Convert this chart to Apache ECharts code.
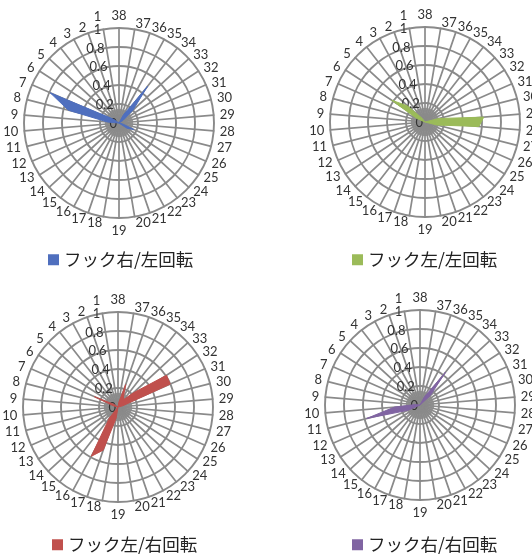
<!DOCTYPE html>
<html>
<head>
<meta charset="utf-8">
<script src="https://cdn.jsdelivr.net/npm/echarts@6/dist/echarts.min.js"></script>
<style>
  html, body { margin: 0; padding: 0; background: #fff; }
  #chart { width: 532px; height: 555px; }
</style>
</head>
<body>
<div id="chart"></div>
<script>
// spokes 1..38
const spokeLabels = Array.from({ length: 38 }, (_, i) => String(i + 1));

const seriesNames = ['フック右/左回転', 'フック左/左回転', 'フック左/右回転', 'フック右/右回転'];
const seriesColors = ['#4f6fbe', '#9bbb59', '#c0504d', '#8064a2'];

// values per spoke (1..38)
const hookRightLeft = [
  0, 0, 0, 0, 0, 0.08, 0.79, 0.55, 0.12, 0,
  0, 0, 0, 0, 0, 0, 0, 0, 0, 0,
  0, 0, 0, 0, 0.1, 0.17, 0.04, 0, 0, 0,
  0, 0.05, 0.2, 0.49, 0.1, 0, 0, 0
];
const hookLeftLeft = [
  0, 0, 0, 0.05, 0.25, 0.42, 0.1, 0, 0, 0,
  0, 0, 0, 0, 0, 0, 0, 0, 0, 0,
  0, 0, 0, 0, 0, 0, 0.13, 0.57, 0.62, 0.15,
  0, 0, 0, 0, 0, 0, 0, 0
];
const hookLeftRight = [
  0, 0, 0, 0, 0, 0.05, 0.27, 0.05, 0, 0,
  0, 0, 0, 0, 0.15, 0.59, 0.48, 0.12, 0, 0,
  0, 0, 0, 0, 0, 0, 0, 0, 0, 0.05,
  0.6, 0.61, 0.22, 0.1, 0.12, 0.25, 0.05, 0
];
const hookRightRight = [
  0, 0, 0, 0, 0, 0, 0, 0, 0.05, 0.27,
  0.58, 0.14, 0, 0, 0, 0, 0, 0, 0, 0,
  0, 0, 0, 0, 0, 0, 0, 0, 0, 0,
  0, 0, 0.15, 0.44, 0.1, 0, 0, 0
];
const allValues = [hookRightLeft, hookLeftLeft, hookLeftRight, hookRightRight];

const centers = [[119, 123], [425, 122], [118, 407], [420, 405]];
const legendPos = [[48, 251], [352, 251], [52, 536], [352, 536]];

// rings every 0.2, drawn on a 0.05 grid so the hub can be shaded
const ringColors = ['#8a8a8a', 'rgba(0,0,0,0)', 'rgba(0,0,0,0)', 'rgba(0,0,0,0)'];
const hubColors = Array.from({ length: 20 }, (_, i) => (i < 3 ? '#9c9c9c' : '#ffffff'));

const chart = echarts.init(document.getElementById('chart'));

function makeRadar(center) {
  return {
    center: center,
    radius: 95,
    startAngle: 90 + 360 / 38,
    shape: 'circle',
    splitNumber: 20,
    indicator: spokeLabels.map((name, i) => {
      const ind = { name: name, min: 0, max: 1 };
      if (i === 0) ind.axisLabel = { show: true };
      return ind;
    }),
    nameGap: 6,
    axisName: { color: '#333', fontSize: 13, fontFamily: 'Lato' },
    axisLine: { lineStyle: { color: '#8a8a8a', width: 1.7 } },
    axisTick: { show: false },
    splitLine: { lineStyle: { color: ringColors, width: 1.9 } },
    splitArea: { show: true, areaStyle: { color: hubColors } },
    axisLabel: {
      show: false,
      color: '#333',
      fontSize: 13,
      fontFamily: 'Lato',
      margin: 2,
      formatter: (v) => {
        const k = Math.round(v * 20);
        return k % 4 === 0 ? String(k / 20) : '';
      }
    }
  };
}

const option = {
  backgroundColor: '#fff',
  animation: false,
  radar: centers.map(makeRadar),
  legend: seriesNames.map((name, i) => ({
    data: [name],
    left: legendPos[i][0],
    top: legendPos[i][1],
    padding: 0,
    icon: 'rect',
    itemWidth: 11,
    itemHeight: 11,
    selectedMode: false,
    textStyle: { fontSize: 17.5, color: '#222', fontFamily: 'Noto Sans CJK JP' }
  })),
  series: seriesNames.map((name, i) => ({
    type: 'radar',
    radarIndex: i,
    name: name,
    symbol: 'none',
    itemStyle: { color: seriesColors[i] },
    lineStyle: { color: seriesColors[i], width: 1 },
    areaStyle: { color: seriesColors[i], opacity: 1 },
    data: [{ name: name, value: allValues[i] }]
  }))
};

chart.setOption(option);
</script>
</body>
</html>
